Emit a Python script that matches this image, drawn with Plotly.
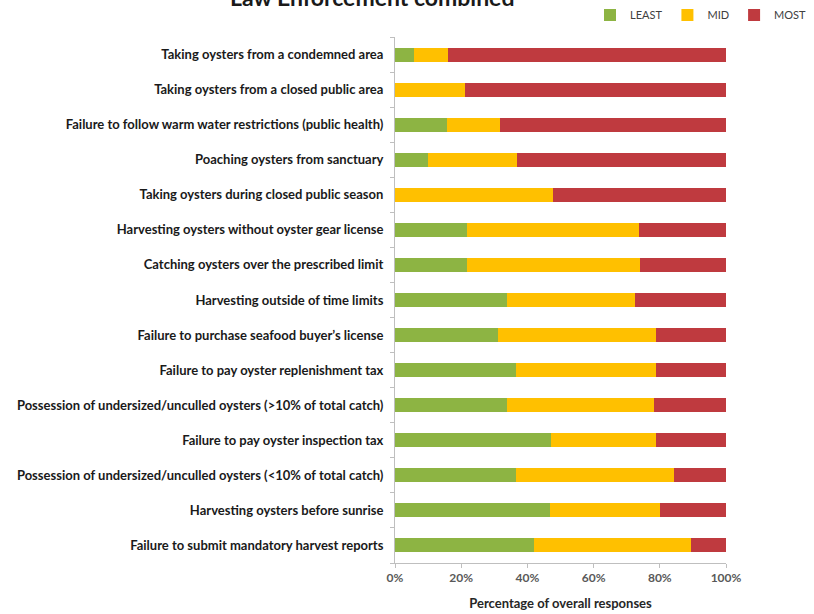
import plotly.graph_objects as go

categories = [
    "Taking oysters from a condemned area",
    "Taking oysters from a closed public area",
    "Failure to follow warm water restrictions (public health)",
    "Poaching oysters from sanctuary",
    "Taking oysters during closed public season",
    "Harvesting oysters without oyster gear license",
    "Catching oysters over the prescribed limit",
    "Harvesting outside of time limits",
    "Failure to purchase seafood buyer\u2019s license",
    "Failure to pay oyster replenishment tax",
    "Possession of undersized/unculled oysters (>10% of total catch)",
    "Failure to pay oyster inspection tax",
    "Possession of undersized/unculled oysters (<10% of total catch)",
    "Harvesting oysters before sunrise",
    "Failure to submit mandatory harvest reports",
]

least = [5.6, 0.0, 15.7, 10.1, 0.0, 21.7, 21.9, 33.7, 31.2, 36.7, 33.7, 47.0, 36.7, 46.8, 42.0]
mid = [10.3, 21.2, 16.0, 26.8, 47.6, 52.1, 52.0, 38.7, 47.7, 42.2, 44.4, 31.9, 47.7, 33.3, 47.5]
most = [84.1, 78.8, 68.3, 63.1, 52.4, 26.2, 26.1, 27.6, 21.1, 21.1, 21.9, 21.1, 15.6, 19.9, 10.5]

series_names = ["LEAST", "MID", "MOST"]
series_values = [least, mid, most]
series_colors = ["#8DB443", "#FFC000", "#BF3A3F"]

x_ticks = [0, 20, 40, 60, 80, 100]
x_ticklabels = ["0%", "20%", "40%", "60%", "80%", "100%"]

FONT = "Lato"
W, H = 814, 614
L, R, T, B = 395, 88, 37, 51
PH = H - T - B

fig = go.Figure()
for name, vals, col in zip(series_names, series_values, series_colors):
    fig.add_trace(go.Bar(
        y=categories, x=vals, name=name, orientation="h",
        marker=dict(color=col, line=dict(width=0)),
    ))

fig.update_layout(
    barmode="stack",
    bargap=0.6,
    width=W, height=H,
    margin=dict(l=L, r=R, t=T, b=B, autoexpand=False),
    paper_bgcolor="white", plot_bgcolor="white",
    font=dict(family=FONT, color="#262626"),
    legend=dict(
        orientation="h", x=1 - 2/W, xref="container", xanchor="right",
        y=1 - 15/H, yref="container", yanchor="middle",
        font=dict(family=FONT, size=11, color="#404040"),
        itemwidth=30, traceorder="normal",
        bgcolor="rgba(0,0,0,0)",
    ),
    showlegend=True,
)

fig.add_annotation(
    text="<b>Law Enforcement combined</b>",
    font=dict(family=FONT, size=23, color="#1a1a1a"),
    xref="paper", x=(372 - L) / (W - L - R), xanchor="center",
    yref="paper", y=1 + 40 / PH, yanchor="middle",
    showarrow=False,
)

fig.update_xaxes(
    range=[0, 100],
    tickvals=x_ticks, ticktext=["<b>%s</b>" % t for t in x_ticklabels],
    tickfont=dict(family=FONT, size=12, color="#595959"),
    showgrid=False, zeroline=False,
    showline=True, linecolor="#BFBFBF", linewidth=1,
    ticks="outside", ticklen=4, tickcolor="#BFBFBF",
    title=dict(text="<b>Percentage of overall responses</b>",
               font=dict(family=FONT, size=13, color="#262626"), standoff=14),
)

fig.update_yaxes(
    autorange="reversed",
    tickvals=categories,
    ticktext=["<b>%s</b>" % c for c in categories],
    tickfont=dict(family=FONT, size=13, color="#1a1a1a"),
    showgrid=False, zeroline=False,
    showline=True, linecolor="#BFBFBF", linewidth=1,
    ticks="outside", ticklen=4, tickcolor="#BFBFBF", tickson="boundaries",
    ticklabelstandoff=8,
)

fig.write_html("out.html", config={"displayModeBar": False},
               post_script="document.body.style.margin='0';")
